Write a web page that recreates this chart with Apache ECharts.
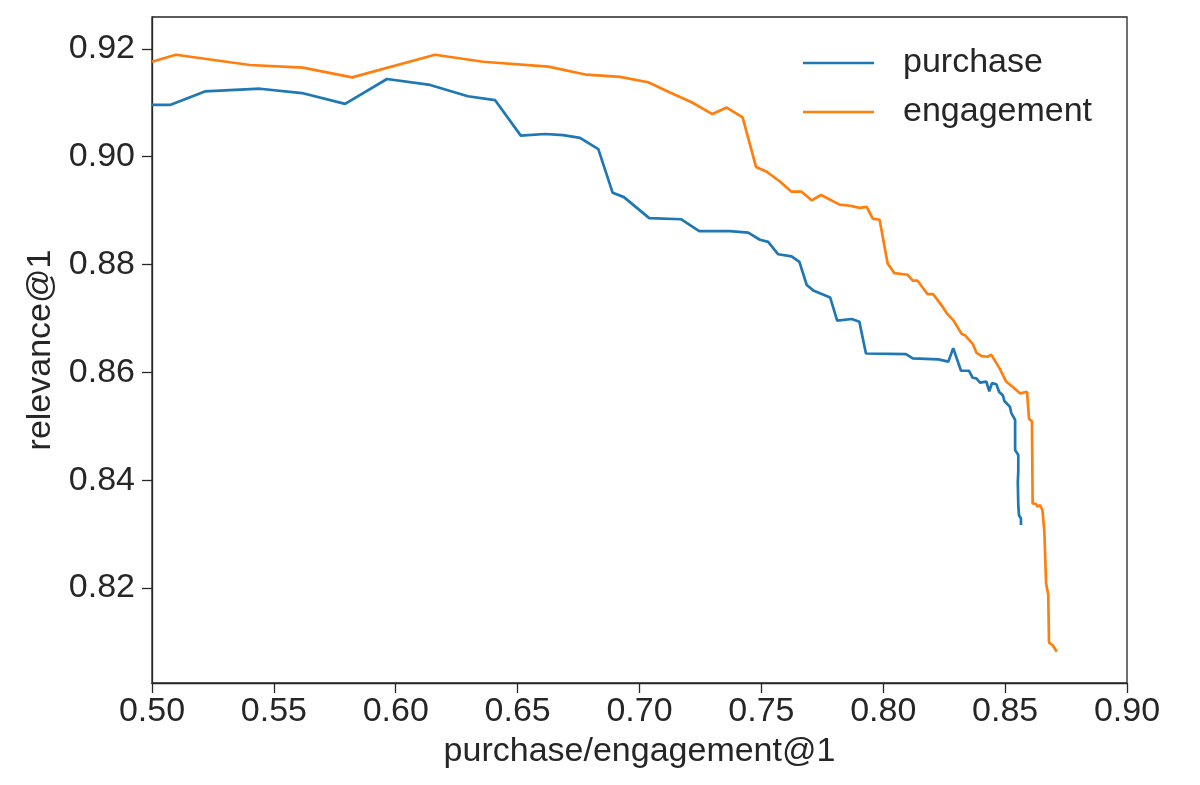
<!DOCTYPE html>
<html>
<head>
<meta charset="utf-8">
<script src="https://cdn.jsdelivr.net/npm/echarts@6/dist/echarts.min.js"></script>
<style>
  html, body { margin: 0; padding: 0; background: #fff; }
  #chart { width: 1200px; height: 785px; }
</style>
</head>
<body>
<div id="chart"></div>
<script>
// purchase curve: [purchase@1, relevance@1]
const purchaseX = [0.5000, 0.5074, 0.5217, 0.5443, 0.5615, 0.5792, 0.5964, 0.6141, 0.6296, 0.6407,
  0.6513, 0.6612, 0.6687, 0.6756, 0.6831, 0.6890, 0.6936, 0.7040, 0.7170, 0.7245,
  0.7371, 0.7446, 0.7494, 0.7528, 0.7569, 0.7624, 0.7656, 0.7686, 0.7713, 0.7782,
  0.7811, 0.7871, 0.7902, 0.7929, 0.8093, 0.8121, 0.8226, 0.8267, 0.8287, 0.8319,
  0.8352, 0.8367, 0.8382, 0.8397, 0.8423, 0.8435, 0.8446, 0.8464, 0.8475, 0.8491,
  0.8497, 0.8520, 0.8525, 0.8541, 0.8541, 0.8554, 0.8554, 0.8552, 0.8554, 0.8557,
  0.8565, 0.8565];
const purchaseY = [0.9096, 0.9096, 0.9121, 0.9126, 0.9118, 0.9098, 0.9144, 0.9133, 0.9112, 0.9105,
  0.9039, 0.9042, 0.9040, 0.9035, 0.9014, 0.8933, 0.8925, 0.8886, 0.8884, 0.8862,
  0.8862, 0.8859, 0.8846, 0.8842, 0.8819, 0.8815, 0.8805, 0.8762, 0.8752, 0.8739,
  0.8696, 0.8699, 0.8694, 0.8635, 0.8634, 0.8626, 0.8624, 0.8620, 0.8645, 0.8603,
  0.8603, 0.8590, 0.8589, 0.8581, 0.8583, 0.8565, 0.8580, 0.8578, 0.8564, 0.8557,
  0.8547, 0.8536, 0.8525, 0.8512, 0.8456, 0.8447, 0.8416, 0.8397, 0.8354, 0.8335,
  0.8329, 0.8317];

// engagement curve
const engagementX = [0.5000, 0.5098, 0.5402, 0.5619, 0.5821, 0.6161, 0.6358, 0.6626, 0.6783, 0.6920,
  0.7036, 0.7125, 0.7214, 0.7299, 0.7358, 0.7423, 0.7478, 0.7522, 0.7576, 0.7624,
  0.7665, 0.7706, 0.7745, 0.7821, 0.7864, 0.7903, 0.7932, 0.7957, 0.7985, 0.8018,
  0.8046, 0.8100, 0.8121, 0.8141, 0.8182, 0.8205, 0.8246, 0.8260, 0.8287, 0.8322,
  0.8335, 0.8367, 0.8383, 0.8404, 0.8430, 0.8443, 0.8479, 0.8504, 0.8534, 0.8562,
  0.8590, 0.8598, 0.8610, 0.8613, 0.8627, 0.8632, 0.8643, 0.8653, 0.8661, 0.8668,
  0.8677, 0.8680, 0.8695, 0.8712];
const engagementY = [0.9176, 0.9189, 0.9170, 0.9165, 0.9147, 0.9189, 0.9176, 0.9167, 0.9152, 0.9148,
  0.9138, 0.9119, 0.9101, 0.9079, 0.9091, 0.9073, 0.8981, 0.8972, 0.8954, 0.8935,
  0.8935, 0.8919, 0.8929, 0.8911, 0.8909, 0.8905, 0.8907, 0.8885, 0.8883, 0.8802,
  0.8784, 0.8781, 0.8770, 0.8770, 0.8745, 0.8745, 0.8720, 0.8710, 0.8697, 0.8671,
  0.8669, 0.8653, 0.8636, 0.8630, 0.8629, 0.8633, 0.8606, 0.8583, 0.8572, 0.8561,
  0.8564, 0.8514, 0.8509, 0.8357, 0.8356, 0.8351, 0.8354, 0.8345, 0.8304, 0.8209,
  0.8187, 0.8099, 0.8094, 0.8082];

const yTicks = [0.82, 0.84, 0.86, 0.88, 0.90, 0.92];

const seriesNames = ['purchase', 'engagement'];
const seriesColors = ['#1f77b4', '#ff7f0e'];

const textColor = '#262626';
const fontFamily = '"Liberation Sans", Arial, sans-serif';
const fontSize = 34;

const zip = (xs, ys) => xs.map((x, i) => [x, ys[i]]);

const chart = echarts.init(document.getElementById('chart'));

chart.setOption({
  animation: false,
  grid: {
    left: 152, right: 73, top: 17, bottom: 102,
    show: true, borderColor: textColor, borderWidth: 1.3, backgroundColor: 'transparent'
  },
  legend: {
    orient: 'vertical',
    left: 798, top: 41,
    icon: 'rect',
    itemWidth: 71, itemHeight: 2.7, itemGap: 15,
    textStyle: { color: textColor, fontSize: fontSize, fontFamily: fontFamily, lineHeight: 34, padding: [0, 0, 0, 24] },
    data: seriesNames
  },
  xAxis: {
    type: 'value',
    min: 0.5, max: 0.9, interval: 0.05,
    name: 'purchase/engagement@1',
    nameLocation: 'middle', nameGap: 52,
    nameTextStyle: { color: textColor, fontSize: fontSize, fontFamily: fontFamily },
    axisLine: { lineStyle: { color: textColor, width: 1.3 } },
    axisTick: { length: 10, lineStyle: { color: textColor, width: 1.3 } },
    axisLabel: { color: textColor, fontSize: fontSize, fontFamily: fontFamily, margin: 12,
      formatter: v => v.toFixed(2) },
    splitLine: { show: false }
  },
  yAxis: {
    type: 'value',
    min: 0.8024, max: 0.9259,
    name: 'relevance@1',
    nameLocation: 'middle', nameGap: 87,
    nameTextStyle: { color: textColor, fontSize: fontSize, fontFamily: fontFamily },
    axisLine: { show: true, lineStyle: { color: textColor, width: 1.3 } },
    axisTick: { show: true, length: 10, customValues: yTicks, lineStyle: { color: textColor, width: 1.3 } },
    axisLabel: { color: textColor, fontSize: fontSize, fontFamily: fontFamily, margin: 17,
      customValues: yTicks, formatter: v => v.toFixed(2) },
    splitLine: { show: false }
  },
  series: [
    {
      name: seriesNames[0], type: 'line', data: zip(purchaseX, purchaseY),
      symbol: 'none', color: seriesColors[0],
      lineStyle: { width: 2.7, color: seriesColors[0] }
    },
    {
      name: seriesNames[1], type: 'line', data: zip(engagementX, engagementY),
      symbol: 'none', color: seriesColors[1],
      lineStyle: { width: 2.7, color: seriesColors[1] }
    }
  ]
});

window.addEventListener('resize', chart.resize);
</script>
</body>
</html>
